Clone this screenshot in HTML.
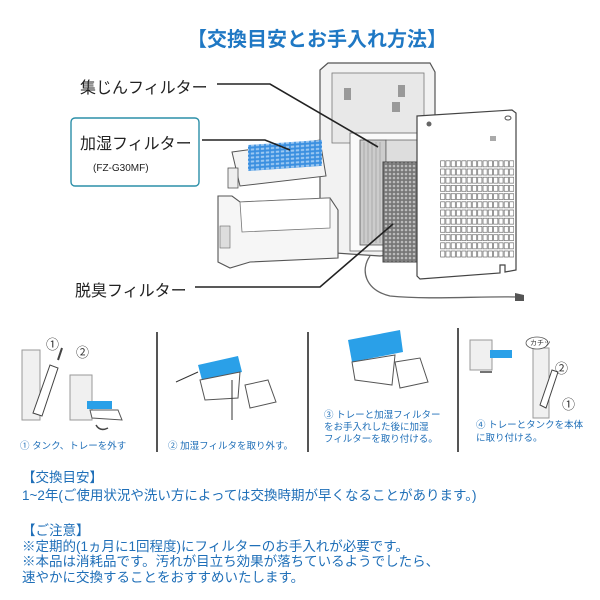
<!DOCTYPE html>
<html><head><meta charset="utf-8"><style>
html,body{margin:0;padding:0;background:#fff;}
body{width:600px;height:600px;position:relative;overflow:hidden;font-family:"Liberation Sans","Noto Sans CJK JP",sans-serif;}
.t{position:absolute;white-space:nowrap;}
.blue{color:#1f6fb8;}
</style></head><body>
<svg width="600" height="600" style="position:absolute;left:0;top:0" xmlns="http://www.w3.org/2000/svg">
<defs>
<pattern id="grid" x="440" y="160" width="5.3" height="8.2" patternUnits="userSpaceOnUse"><rect x="0.6" y="0.8" width="4.2" height="6" fill="#fff" stroke="#555" stroke-width="0.6"/></pattern>
<pattern id="hex" width="4" height="4" patternUnits="userSpaceOnUse"><rect width="4" height="4" fill="#777"/><circle cx="2" cy="2" r="1.3" fill="#bbb"/></pattern>
<pattern id="blu" width="5" height="4" patternUnits="userSpaceOnUse"><rect width="5" height="4" fill="#3a8fe0"/><rect x="0.8" y="0.8" width="3.4" height="2" fill="#9cc8f2"/></pattern>
</defs>
<path d="M320 70 L328 63 L430 63 L435 72 L435 250 L380 256 L320 252 Z" fill="#f2f2f2" stroke="#555" stroke-width="1.2"/>
<rect x="332" y="73" width="92" height="70" fill="#e8e8e8" stroke="#777" stroke-width="0.8"/>
<rect x="344" y="88" width="7" height="12" fill="#999"/><rect x="398" y="85" width="7" height="12" fill="#999"/>
<rect x="392" y="102" width="8" height="10" fill="#999"/>
<rect x="350" y="133" width="80" height="118" fill="#fafafa" stroke="#666" stroke-width="0.8"/>
<rect x="360" y="140" width="26" height="105" fill="#ccc" stroke="#555" stroke-width="0.8"/>
<g stroke="#888" stroke-width="0.5"><line x1="364" y1="142" x2="364" y2="243"/><line x1="368" y1="142" x2="368" y2="243"/><line x1="372" y1="142" x2="372" y2="243"/><line x1="376" y1="142" x2="376" y2="243"/><line x1="380" y1="142" x2="380" y2="243"/></g>
<rect x="386" y="140" width="32" height="30" fill="#ddd" stroke="#555" stroke-width="0.7"/>
<rect x="383" y="162" width="34" height="100" fill="url(#hex)" stroke="#444" stroke-width="1"/>
<path d="M417 116 L512 110 L516 113 L516 270 L505 272 L505 265 L500 265 L500 273 L420 279 L417 276 Z" fill="#fff" stroke="#444" stroke-width="1.2"/>
<rect x="440" y="160" width="74" height="98" fill="url(#grid)"/>
<circle cx="429" cy="124" r="2.5" fill="#666"/><ellipse cx="508" cy="118" rx="3" ry="2" fill="none" stroke="#555"/>
<rect x="490" y="136" width="6" height="5" fill="#aaa"/>
<path d="M370 256 C 360 270, 365 290, 390 296 C 430 300, 480 296, 518 297" fill="none" stroke="#666" stroke-width="1.3"/>
<path d="M515 293 L524 295 L524 301 L515 301 Z" fill="#555"/>
<path d="M232 152 L320 140 L326 176 L240 186 Z" fill="#f4f4f4" stroke="#555" stroke-width="1"/>
<rect x="248" y="145" width="74" height="26" fill="url(#blu)" transform="skewY(-4)" transform-origin="248 145"/>
<rect x="228" y="168" width="10" height="20" fill="#eee" stroke="#555" stroke-width="0.8"/>
<path d="M218 196 L232 196 L240 202 L330 198 L338 210 L338 258 L250 262 L230 268 L218 262 Z" fill="#f6f6f6" stroke="#555" stroke-width="1.1"/>
<path d="M240 202 L330 198 L330 228 L242 232 Z" fill="#fff" stroke="#777" stroke-width="0.8"/>
<rect x="220" y="226" width="10" height="22" fill="#ddd" stroke="#666" stroke-width="0.6"/>
<g fill="none" stroke="#222" stroke-width="1.6">
<polyline points="217,84 270,84 378,147"/>
<polyline points="202,140 265,140 290,150"/>
<polyline points="195,287 320,287 393,224"/>
</g>
<rect x="71" y="118" width="128" height="68" rx="4" fill="none" stroke="#2b8fa8" stroke-width="1.4"/>
<g stroke="#555" stroke-width="2"><line x1="157" y1="332" x2="157" y2="452"/><line x1="308" y1="332" x2="308" y2="452"/><line x1="458" y1="328" x2="458" y2="452"/></g>
<rect x="22" y="350" width="18" height="70" fill="#f0f0f0" stroke="#999"/>
<path d="M33 413 L50 365 L58 368 L42 416 Z" fill="#fff" stroke="#444"/>
<rect x="70" y="375" width="22" height="45" fill="#f0f0f0" stroke="#999"/>
<rect x="87" y="401" width="25" height="8" fill="#2aa0e8"/>
<path d="M90 410 L118 410 L122 420 L92 418 Z" fill="#fff" stroke="#555"/>
<path d="M58 360 L62 348" stroke="#444" stroke-width="2"/>
<path d="M96 425 Q100 432 108 428" stroke="#444" fill="none" stroke-width="1.5"/>
<path d="M198 365 L238 356 L242 372 L202 380 Z" fill="#2aa0e8"/>
<path d="M200 380 L240 372 L238 398 L205 400 Z" fill="#fff" stroke="#555"/>
<path d="M245 385 L268 380 L276 402 L250 408 Z" fill="#fff" stroke="#555"/>
<path d="M176 382 L198 372 M232 380 L232 420" stroke="#333" fill="none"/>
<path d="M348 340 L400 330 L403 352 L352 362 Z" fill="#2aa0e8"/>
<path d="M352 362 L395 355 L392 385 L355 380 Z" fill="#fff" stroke="#555"/>
<path d="M395 362 L420 358 L428 382 L400 388 Z" fill="#fff" stroke="#555"/>
<rect x="470" y="340" width="22" height="30" fill="#f0f0f0" stroke="#999"/>
<rect x="490" y="350" width="22" height="8" fill="#2aa0e8"/>
<path d="M492 372 L480 372" stroke="#444" stroke-width="1.5"/>
<rect x="533" y="348" width="16" height="70" fill="#f0f0f0" stroke="#999"/>
<path d="M540 405 L552 370 L558 372 L546 408 Z" fill="#fff" stroke="#444"/>
<ellipse cx="537" cy="343" rx="11" ry="6" fill="#fff" stroke="#555" stroke-width="0.8"/>
</svg>
<div class="t" style="left:187px;top:23px;font-size:20px;font-weight:bold;color:#1f78c4;">【交換目安とお手入れ方法】</div>
<div class="t" style="left:80px;top:74px;font-size:16px;color:#222;">集じんフィルター</div>
<div class="t" style="left:80px;top:130px;font-size:16px;color:#222;">加湿フィルター</div>
<div class="t" style="left:93px;top:163px;font-size:10px;color:#222;">(FZ-G30MF)</div>
<div class="t" style="left:75px;top:277px;font-size:16px;color:#222;">脱臭フィルター</div>
<div class="t" style="left:46px;top:334px;font-size:13px;color:#333;">①</div>
<div class="t" style="left:76px;top:342px;font-size:13px;color:#333;">②</div>
<div class="t" style="left:530px;top:338px;font-size:7px;color:#333;">カチッ</div>
<div class="t" style="left:555px;top:358px;font-size:13px;color:#333;">②</div>
<div class="t" style="left:562px;top:394px;font-size:13px;color:#333;">①</div>
<div class="t" style="left:20px;top:438px;font-size:9.5px;color:#1f6fb8;">① タンク、トレーを外す</div>
<div class="t" style="left:168px;top:438px;font-size:9.5px;color:#1f6fb8;">② 加湿フィルタを取り外す。</div>
<div class="t" style="left:324px;top:410px;font-size:9.5px;line-height:12px;color:#1f6fb8;">③ トレーと加湿フィルター<br>をお手入れした後に加湿<br>フィルターを取り付ける。</div>
<div class="t" style="left:476px;top:419px;font-size:9.5px;line-height:13px;color:#1f6fb8;">④ トレーとタンクを本体<br>に取り付ける。</div>
<div class="t blue" style="left:22px;top:469px;font-size:13.5px;line-height:18px;">【交換目安】<br>1~2年(ご使用状況や洗い方によっては交換時期が早くなることがあります。)</div>
<div class="t blue" style="left:22px;top:523px;font-size:13.5px;line-height:15.5px;">【ご注意】<br>※定期的(1ヵ月に1回程度)にフィルターのお手入れが必要です。<br>※本品は消耗品です。汚れが目立ち効果が落ちているようでしたら、<br>速やかに交換することをおすすめいたします。</div>
</body></html>
